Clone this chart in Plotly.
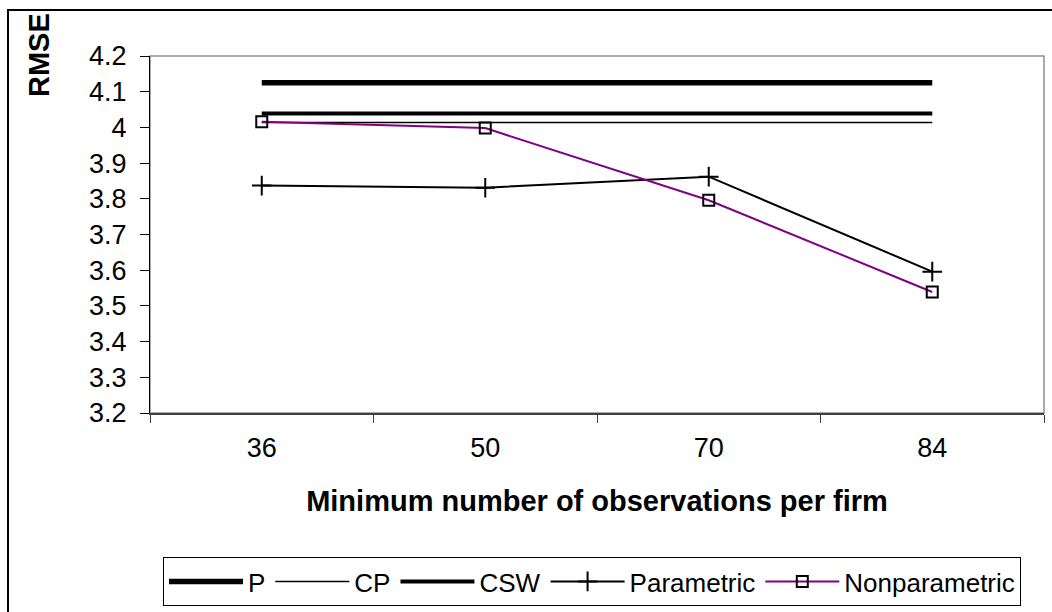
import plotly.graph_objects as go

categories = ["36", "50", "70", "84"]
p_values = [4.125, 4.125, 4.125, 4.125]
cp_values = [4.014, 4.014, 4.014, 4.014]
csw_values = [4.039, 4.039, 4.039, 4.039]
parametric = [3.837, 3.831, 3.862, 3.596]
nonparametric = [4.016, 3.998, 3.796, 3.539]
ytick_vals = [3.2, 3.3, 3.4, 3.5, 3.6, 3.7, 3.8, 3.9, 4.0, 4.1, 4.2]
ytick_text = ["3.2", "3.3", "3.4", "3.5", "3.6", "3.7", "3.8", "3.9", "4", "4.1", "4.2"]

FONT = "Liberation Sans, Arial, sans-serif"
W, H = 1052, 612
L, R, T, B = 150, 8, 56, 199
pw, ph = W - L - R, H - T - B

def px_x(x):
    return (x - L) / pw

def px_y(y):
    return (H - B - y) / ph

fig = go.Figure()
fig.add_trace(go.Scatter(x=categories, y=p_values, name="P", mode="lines",
                         line=dict(color="black", width=5.5)))
fig.add_trace(go.Scatter(x=categories, y=cp_values, name="CP", mode="lines",
                         line=dict(color="black", width=1.5)))
fig.add_trace(go.Scatter(x=categories, y=csw_values, name="CSW", mode="lines",
                         line=dict(color="black", width=4)))
fig.add_trace(go.Scatter(x=categories, y=parametric, name="Parametric", mode="lines+markers",
                         line=dict(color="black", width=2),
                         marker=dict(symbol="cross-thin-open", size=14, color="black",
                                     line=dict(width=2, color="black"))))
fig.add_trace(go.Scatter(x=categories, y=nonparametric, name="Nonparametric", mode="lines+markers",
                         line=dict(color="#800080", width=2),
                         marker=dict(symbol="square-open", size=11, color="black",
                                     line=dict(width=2, color="black"))))

fig.update_layout(
    width=W, height=H,
    margin=dict(l=L, r=R, t=T, b=B, autoexpand=False),
    paper_bgcolor="white", plot_bgcolor="white",
    font=dict(family=FONT, size=26, color="black"),
    showlegend=True,
    legend=dict(orientation="h", x=px_x(592), xanchor="center",
                y=px_y(557), yanchor="top",
                bordercolor="black", borderwidth=1,
                font=dict(family=FONT, size=26, color="black"),
                itemwidth=74, tracegroupgap=0,
                bgcolor="white"),
    xaxis=dict(type="category", range=[-0.5, 3.5],
               showgrid=False, zeroline=False,
               showline=True, linecolor="#404040", linewidth=1.5,
               ticks="outside", ticklen=8, tickcolor="#404040", tickwidth=1,
               tickson="boundaries",
               ticklabelstandoff=10,
               tickfont=dict(family=FONT, size=27),
               title=dict(text="<b>Minimum number of observations per firm</b>",
                          font=dict(family=FONT, size=29), standoff=29)),
    yaxis=dict(range=[3.2, 4.2], tickvals=ytick_vals, ticktext=ytick_text,
               showgrid=False, zeroline=False,
               showline=True, linecolor="black", linewidth=1,
               ticks="outside", ticklen=9, tickcolor="black", tickwidth=1,
               ticklabelstandoff=8,
               tickfont=dict(family=FONT, size=27)),
    shapes=[
        dict(type="rect", xref="paper", yref="paper", x0=0, x1=1, y0=0, y1=1,
             line=dict(color="#909090", width=1.5), layer="below"),
        dict(type="rect", xref="paper", yref="paper",
             x0=px_x(8), x1=px_x(1060), y0=px_y(620), y1=px_y(10),
             line=dict(color="black", width=2), layer="below"),
    ],
    annotations=[
        dict(text="<b>RMSE</b>", xref="paper", yref="paper",
             x=px_x(39), y=px_y(55), xanchor="center", yanchor="middle",
             textangle=-90, showarrow=False,
             font=dict(family=FONT, size=29, color="black")),
    ],
)

fig.write_html("out.html")
